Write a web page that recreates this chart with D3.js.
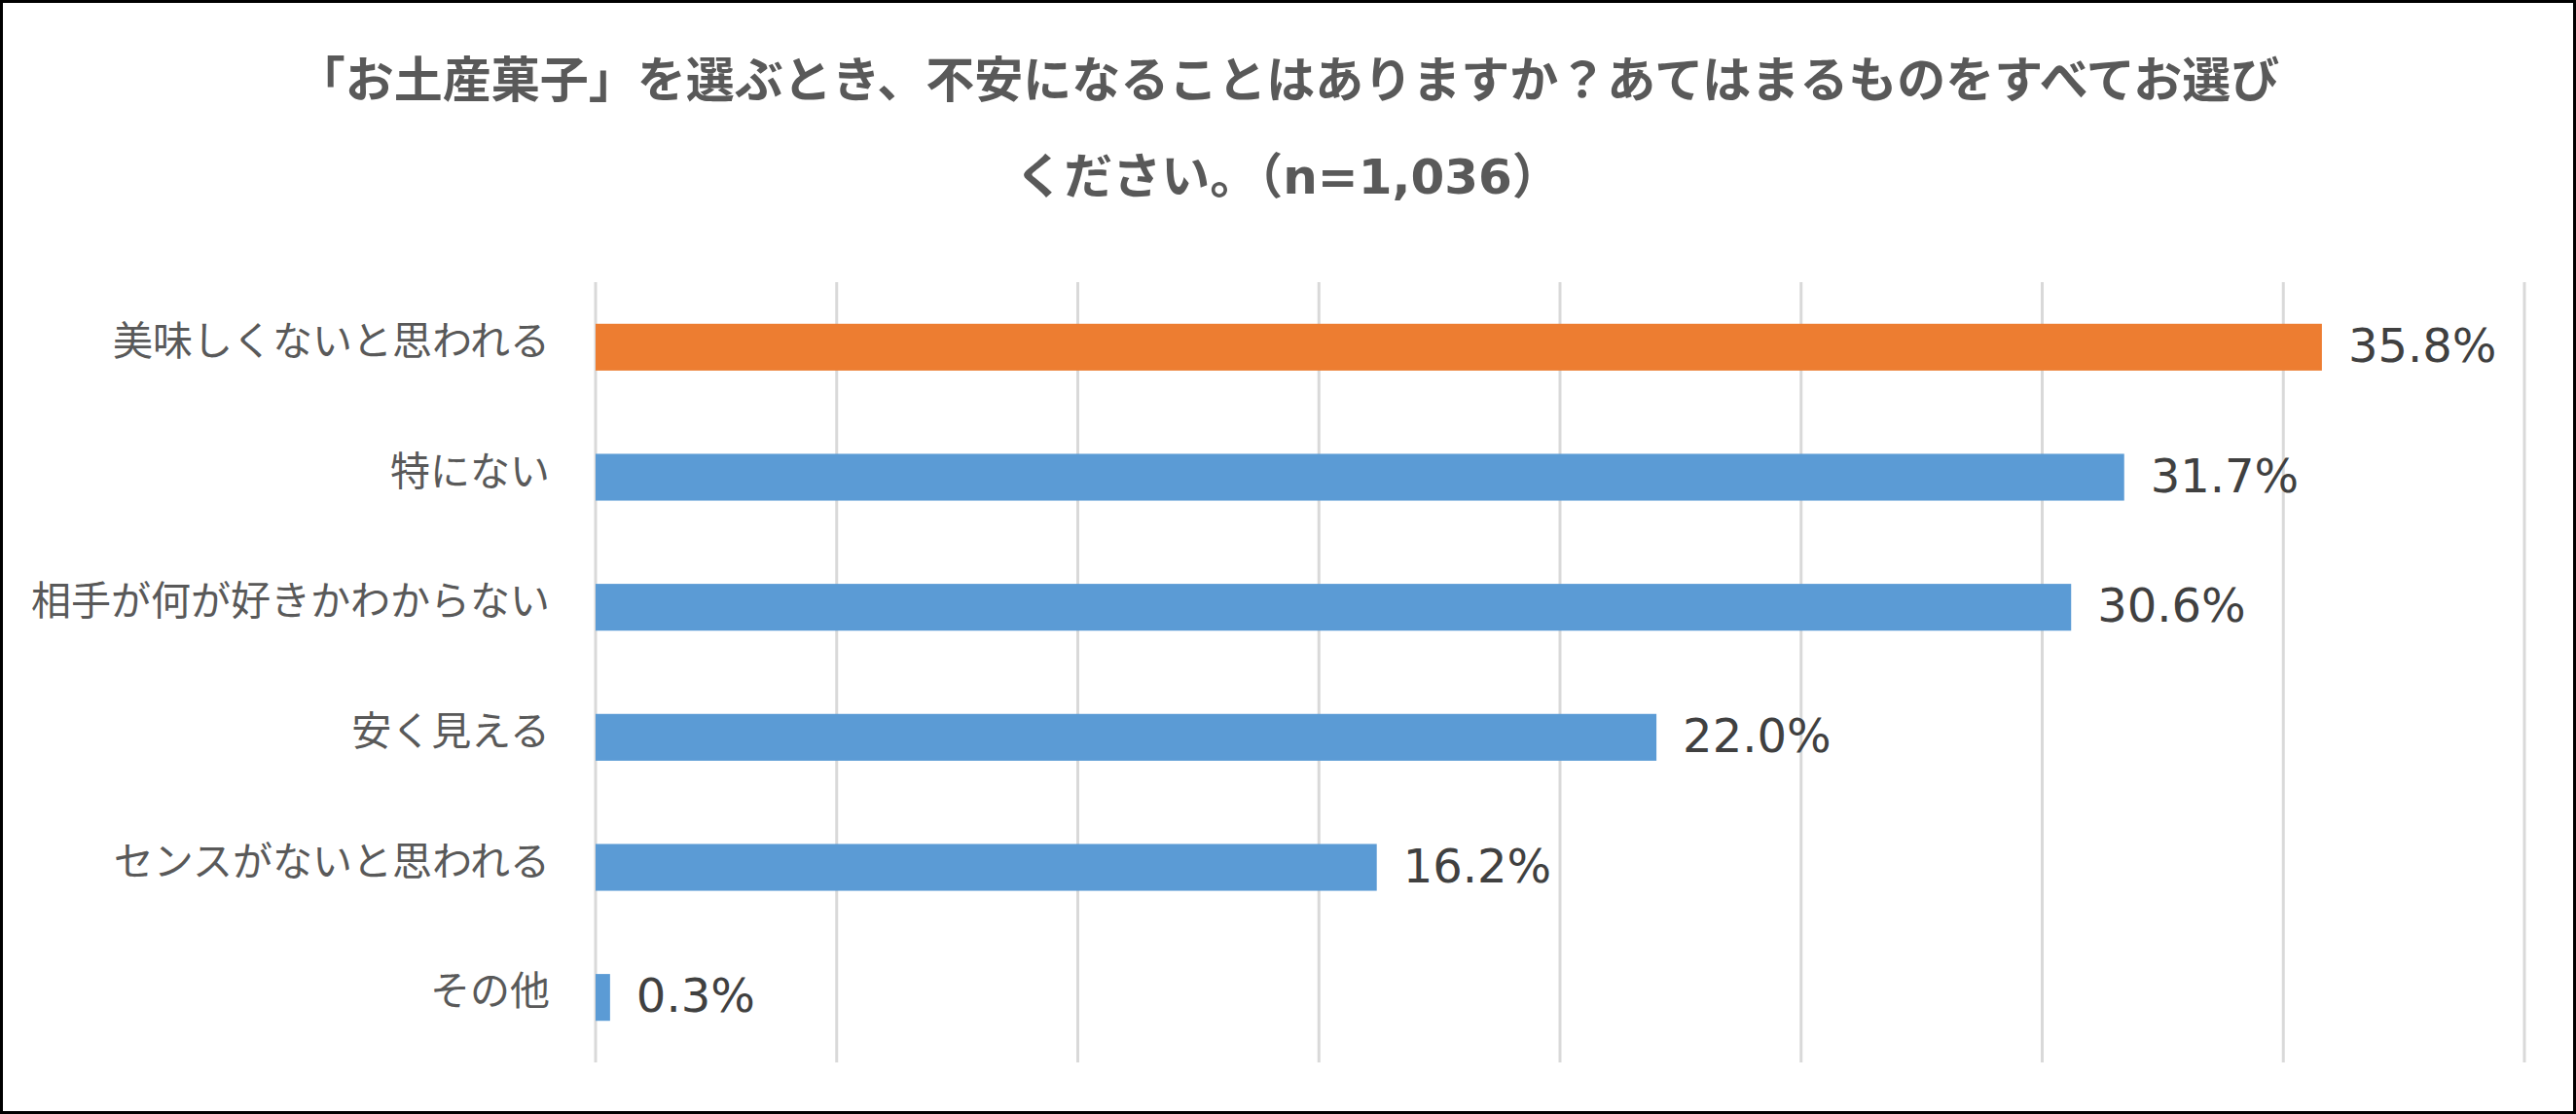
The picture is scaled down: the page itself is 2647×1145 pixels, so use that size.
<!DOCTYPE html>
<html>
<head>
<meta charset="utf-8">
<script src="https://cdn.jsdelivr.net/npm/d3@7"></script>
<style>
  body { margin: 0; background: #fff; }
</style>
</head>
<body>
<div id="chart"></div>
<script>
// data
var categories = ["美味しくないと思われる", "特にない", "相手が何が好きかわからない", "安く見える", "センスがないと思われる", "その他"];
var values = [35.8, 31.7, 30.6, 22.0, 16.2, 0.3];
// title pieces: [text, latin?]
var titleLines = [
    [["「お土産菓子」を選ぶとき、不安になることはありますか？あてはまるものをすべてお選び", false]],
    [["ください。（", false], ["n=1,036", true], ["）", false]]
];
var xTicks = [0, 5, 10, 15, 20, 25, 30, 35, 40];

var width = 2647,
    height = 1145;

var svg = d3.select("#chart").append("svg")
    .attr("width", width)
    .attr("height", height);

svg.append("rect")
    .attr("x", 1.5).attr("y", 1.5)
    .attr("width", width - 3).attr("height", height - 3)
    .attr("fill", "#fff")
    .attr("stroke", "#000")
    .attr("stroke-width", 3);

var margin = {top: 290, right: 53, bottom: 53, left: 612};

var x = d3.scaleLinear().domain([0, 40]).range([margin.left, width - margin.right]);
var y = d3.scaleBand().domain(categories)
    .range([margin.top, height - margin.bottom])
    .paddingInner(0.64).paddingOuter(0.32);

// title
svg.append("g").selectAll("text")
    .data(titleLines)
    .enter().append("text")
    .attr("x", width / 2)
    .attr("y", function(d, i) { return 100 + i * 99; })
    .attr("text-anchor", "middle")
    .style("font-family", "'Noto Sans CJK JP', sans-serif")
    .style("font-weight", "bold")
    .style("font-size", "50px")
    .style("fill", "#595959")
    .selectAll("tspan")
    .data(function(d) { return d; })
    .enter().append("tspan")
    .style("font-family", function(d) { return d[1] ? "'DejaVu Sans', sans-serif" : null; })
    .text(function(d) { return d[0]; });

// vertical gridlines
svg.append("g").selectAll("line")
    .data(xTicks)
    .enter().append("line")
    .attr("x1", function(d) { return x(d); })
    .attr("x2", function(d) { return x(d); })
    .attr("y1", margin.top)
    .attr("y2", height - margin.bottom)
    .attr("stroke", "#d9d9d9")
    .attr("stroke-width", 3);

// bars
svg.append("g").selectAll("rect")
    .data(values)
    .enter().append("rect")
    .attr("x", x(0))
    .attr("y", function(d, i) { return y(categories[i]); })
    .attr("width", function(d) { return x(d) - x(0); })
    .attr("height", y.bandwidth())
    .attr("fill", function(d, i) { return i === 0 ? "#ED7D31" : "#5B9BD5"; });

// category labels
svg.append("g").selectAll("text")
    .data(categories)
    .enter().append("text")
    .attr("x", x(0) - 47)
    .attr("y", function(d) { return y(d) + y.bandwidth() / 2 + 8; })
    .attr("text-anchor", "end")
    .style("font-family", "'Noto Sans CJK JP', sans-serif")
    .style("font-size", "41px")
    .style("fill", "#595959")
    .text(function(d) { return d; });

// value labels
svg.append("g").selectAll("text")
    .data(values)
    .enter().append("text")
    .attr("x", function(d) { return x(d) + 27; })
    .attr("y", function(d, i) { return y(categories[i]) + y.bandwidth() / 2 + 15; })
    .style("font-family", "'DejaVu Sans', sans-serif")
    .style("font-size", "48px")
    .style("fill", "#404040")
    .text(function(d) { return d.toFixed(1) + "%"; });
</script>
</body>
</html>
